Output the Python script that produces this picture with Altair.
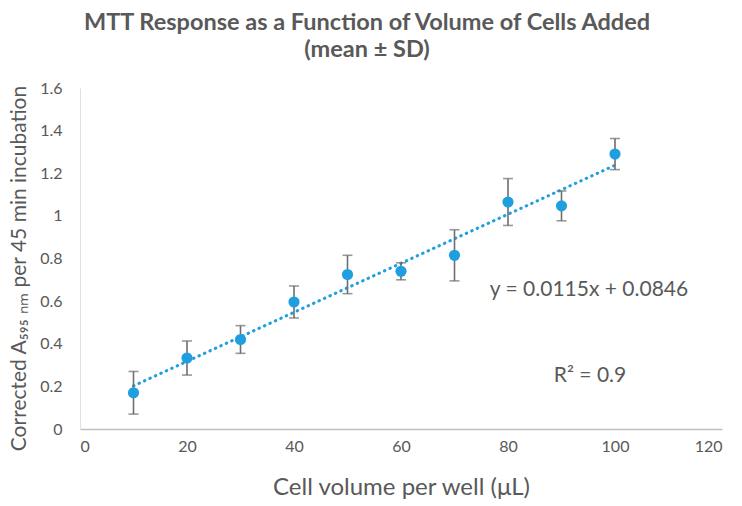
import altair as alt
import pandas as pd

volume = [10, 20, 30, 40, 50, 60, 70, 80, 90, 100]
mean_abs = [0.17, 0.333, 0.42, 0.596, 0.725, 0.74, 0.815, 1.065, 1.047, 1.29]
sd_abs = [0.10, 0.08, 0.065, 0.075, 0.09, 0.04, 0.12, 0.11, 0.07, 0.073]
y_ticks = [0, 0.2, 0.4, 0.6, 0.8, 1.0, 1.2, 1.4, 1.6]
x_ticks = [0, 20, 40, 60, 80, 100, 120]
equation_text = "y = 0.0115x + 0.0846"
r2_text = "R² = 0.9"

df = pd.DataFrame({"x": volume, "y": mean_abs, "sd": sd_abs})
df["lo"] = df["y"] - df["sd"]
df["hi"] = df["y"] + df["sd"]

FONT = "Lato"
TXT = "#595959"
BLUE = "#1f9fdf"
GRAY = "#6e6e6e"

xs = alt.Scale(domain=[0, 120], nice=False)
ys = alt.Scale(domain=[0, 1.6], nice=False)

xaxis = alt.Axis(values=x_ticks, title="Cell volume per well (μL)", grid=False,
                 ticks=False, domainColor="#bfbfbf", domainWidth=1.5,
                 labelColor=TXT, labelFontSize=16, labelFont=FONT, labelPadding=9,
                 titleColor=TXT, titleFontSize=24, titleFont=FONT, titleFontWeight="normal",
                 titlePadding=21)
yaxis = alt.Axis(values=y_ticks, title="Corrected A₅₉₅ ₙₘ per 45 min incubation", grid=False,
                 ticks=False, domainColor="#e0e0e0", domainWidth=1,
                 labelExpr="format(datum.value, '~g')",
                 labelColor=TXT, labelFontSize=16, labelFont=FONT, labelPadding=18,
                 titleColor=TXT, titleFontSize=21, titleFont=FONT, titleFontWeight="normal",
                 titlePadding=10, titleY=180)

base = alt.Chart(df)

trend = base.transform_regression("x", "y", extent=[10, 100]).mark_line(
    color=BLUE, strokeWidth=3, strokeDash=[0.5, 5.5], strokeCap="round"
).encode(x=alt.X("x:Q", scale=xs, axis=xaxis), y=alt.Y("y:Q", scale=ys, axis=yaxis))

bars = base.mark_rule(color=GRAY, strokeWidth=1.6).encode(
    x=alt.X("x:Q", scale=xs), y=alt.Y("lo:Q", scale=ys), y2="hi:Q")
cap_lo = base.mark_tick(color=GRAY, size=10, thickness=1.6, orient="horizontal").encode(
    x=alt.X("x:Q", scale=xs), y=alt.Y("lo:Q", scale=ys))
cap_hi = base.mark_tick(color=GRAY, size=10, thickness=1.6, orient="horizontal").encode(
    x=alt.X("x:Q", scale=xs), y=alt.Y("hi:Q", scale=ys))

pts = base.mark_point(filled=True, opacity=1, color=BLUE, size=125, shape="circle").encode(
    x=alt.X("x:Q", scale=xs), y=alt.Y("y:Q", scale=ys))

eq = alt.Chart(pd.DataFrame({"t": [equation_text]})).mark_text(
    font=FONT, fontSize=21, color=TXT, align="center", baseline="middle"
).encode(text="t:N", x=alt.value(509), y=alt.value(202))
r2 = alt.Chart(pd.DataFrame({"t": [r2_text]})).mark_text(
    font=FONT, fontSize=21, color=TXT, align="center", baseline="middle"
).encode(text="t:N", x=alt.value(510), y=alt.value(288))

chart = alt.layer(trend, bars, cap_lo, cap_hi, pts, eq, r2).properties(
    width=642, height=341,
    padding={"left": 72, "top": 80, "right": 12, "bottom": 74},
    autosize=alt.AutoSizeParams(type="none"),
    title=alt.TitleParams(
        text=["MTT Response as a Function of Volume of Cells Added", "(mean ± SD)"],
        font=FONT, fontSize=23.5, fontWeight="bold", color=TXT, anchor="middle",
        frame="group", dx=-34, offset=19, lineHeight=27),
).configure_view(stroke=None)

chart.save("out.html", embed_options={"renderer": "svg", "actions": False})
